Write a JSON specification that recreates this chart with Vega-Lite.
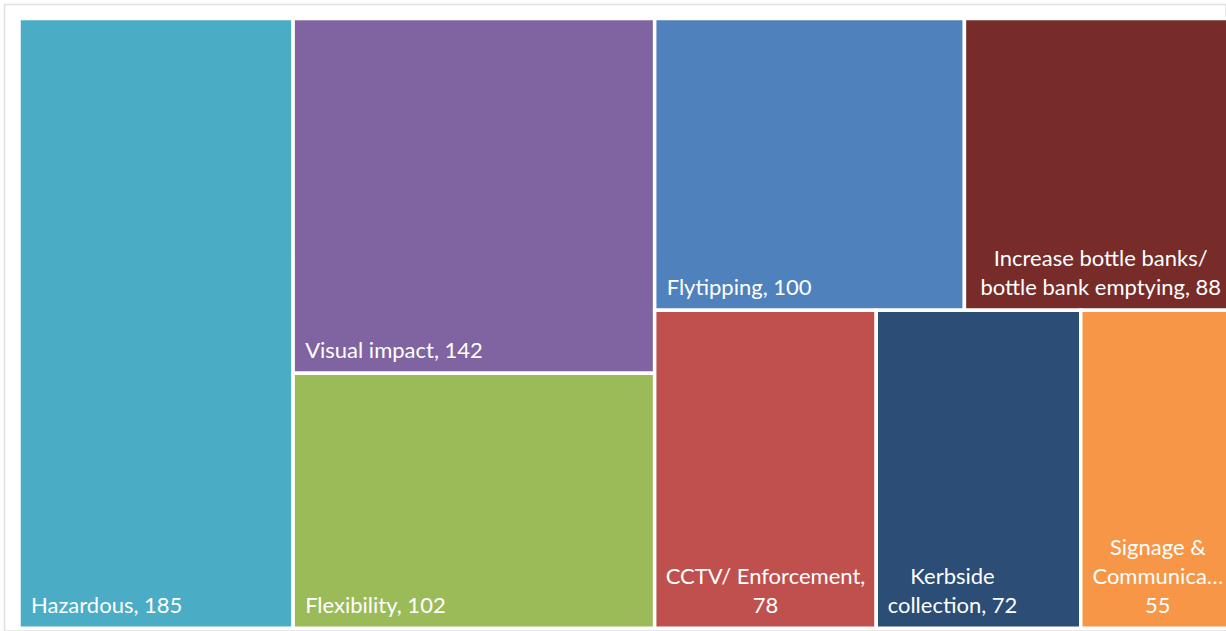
{
  "$schema": "https://vega.github.io/schema/vega-lite/v6.json",
  "autosize": "none",
  "padding": {"left": 4.5, "top": 4.5, "right": 0, "bottom": 0},
  "width": 1221.5,
  "height": 626.5,
  "background": "white",
  "config": {"view": {"stroke": "#E0E0E0", "strokeWidth": 1.5}},
  "data": {
    "values": [
      {"name": "Hazardous", "value": 185, "col": 1, "row": 1, "label": "Hazardous, 185"},
      {"name": "Visual impact", "value": 142, "col": 2, "row": 1, "label": "Visual impact, 142"},
      {"name": "Flexibility", "value": 102, "col": 2, "row": 2, "label": "Flexibility, 102"},
      {"name": "Flytipping", "value": 100, "col": 3, "row": 1, "label": "Flytipping, 100"},
      {"name": "Increase bottle banks/ bottle bank emptying", "value": 88, "col": 3, "row": 1, "label": "Increase bottle banks/\nbottle bank emptying, 88"},
      {"name": "CCTV/ Enforcement", "value": 78, "col": 3, "row": 2, "label": "CCTV/ Enforcement,\n78"},
      {"name": "Kerbside collection", "value": 72, "col": 3, "row": 2, "label": "Kerbside\ncollection, 72"},
      {"name": "Signage & Communication", "value": 55, "col": 3, "row": 2, "label": "Signage &\nCommunica…\n55"}
    ]
  },
  "transform": [
    {"stack": "value", "groupby": [], "sort": [{"field": "col", "order": "ascending"}, {"field": "row", "order": "ascending"}, {"field": "value", "order": "descending"}], "as": ["s0", "s1"]},
    {"joinaggregate": [{"op": "min", "field": "s0", "as": "cx0"}, {"op": "max", "field": "s1", "as": "cx1"}], "groupby": ["col"]},
    {"stack": "value", "groupby": ["col"], "sort": [{"field": "row", "order": "ascending"}, {"field": "value", "order": "descending"}], "offset": "normalize", "as": ["t0", "t1"]},
    {"joinaggregate": [{"op": "min", "field": "t0", "as": "ry0"}, {"op": "max", "field": "t1", "as": "ry1"}], "groupby": ["col", "row"]},
    {"stack": "value", "groupby": ["col", "row"], "sort": [{"field": "value", "order": "descending"}], "offset": "normalize", "as": ["u0", "u1"]},
    {"calculate": "datum.cx0 + datum.u0 * (datum.cx1 - datum.cx0)", "as": "x0"},
    {"calculate": "datum.cx0 + datum.u1 * (datum.cx1 - datum.cx0)", "as": "x1"},
    {"calculate": "(datum.x0 + datum.x1) / 2", "as": "xm"},
    {"calculate": "length(split(datum.label, '\\n'))", "as": "nlines"}
  ],
  "layer": [
    {
      "mark": {"type": "rect", "stroke": "white", "strokeWidth": 3.5, "clip": true},
      "encoding": {
        "x": {"field": "x0", "type": "quantitative", "scale": {"domain": [-9.79, 814.58], "nice": false, "zero": false}, "axis": null},
        "x2": {"field": "x1"},
        "y": {"field": "ry0", "type": "quantitative", "scale": {"domain": [-0.023, 1.0046], "reverse": true, "nice": false, "zero": false}, "axis": null},
        "y2": {"field": "ry1"},
        "color": {
          "field": "name", "type": "nominal", "legend": null,
          "scale": {
            "domain": ["Hazardous", "Visual impact", "Flexibility", "Flytipping", "Increase bottle banks/ bottle bank emptying", "CCTV/ Enforcement", "Kerbside collection", "Signage & Communication"],
            "range": ["#4BACC6", "#8064A2", "#9BBB59", "#4F81BD", "#772C2A", "#C0504D", "#2C4D75", "#F79646"]
          }
        }
      }
    },
    {
      "transform": [{"filter": "datum.nlines == 1"}],
      "mark": {"type": "text", "align": "left", "baseline": "bottom", "dx": 12, "dy": -10, "font": "Lato", "fontSize": 22, "color": "white", "clip": true},
      "encoding": {
        "x": {"field": "x0", "type": "quantitative"},
        "y": {"field": "ry1", "type": "quantitative"},
        "text": {"field": "label", "type": "nominal"}
      }
    },
    {
      "transform": [{"filter": "datum.nlines == 2 && datum.name != 'Kerbside collection'"}],
      "mark": {"type": "text", "align": "center", "baseline": "bottom", "dy": -39, "font": "Lato", "fontSize": 22, "lineHeight": 29, "lineBreak": "\n", "color": "white", "clip": true},
      "encoding": {
        "x": {"field": "xm", "type": "quantitative"},
        "y": {"field": "ry1", "type": "quantitative"},
        "text": {"field": "label", "type": "nominal"}
      }
    },
    {
      "transform": [{"filter": "datum.name == 'Kerbside collection'"}],
      "mark": {"type": "text", "align": "center", "baseline": "bottom", "dx": -26, "dy": -39, "font": "Lato", "fontSize": 22, "lineHeight": 29, "lineBreak": "\n", "color": "white", "clip": true},
      "encoding": {
        "x": {"field": "xm", "type": "quantitative"},
        "y": {"field": "ry1", "type": "quantitative"},
        "text": {"field": "label", "type": "nominal"}
      }
    },
    {
      "transform": [{"filter": "datum.nlines == 3"}],
      "mark": {"type": "text", "align": "center", "baseline": "bottom", "dx": -1, "dy": -68, "font": "Lato", "fontSize": 22, "lineHeight": 29, "lineBreak": "\n", "color": "white", "clip": true},
      "encoding": {
        "x": {"field": "xm", "type": "quantitative"},
        "y": {"field": "ry1", "type": "quantitative"},
        "text": {"field": "label", "type": "nominal"}
      }
    }
  ]
}
